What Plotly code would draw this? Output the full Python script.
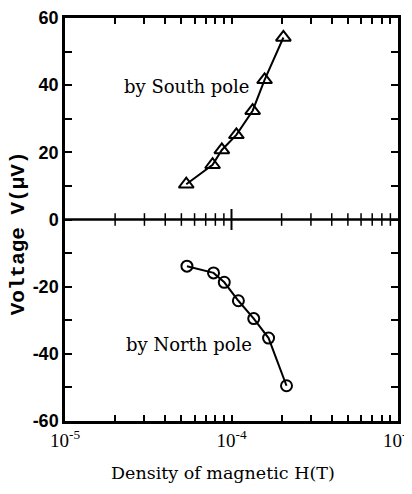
import plotly.graph_objects as go

# Data
south_h = [5.35e-5, 7.7e-5, 8.75e-5, 1.07e-4, 1.34e-4, 1.58e-4, 2.05e-4]
south_v = [10.5, 16.3, 20.7, 25.2, 32.4, 41.6, 54.2]
north_h = [5.4e-5, 7.8e-5, 9.05e-5, 1.1e-4, 1.36e-4, 1.67e-4, 2.14e-4]
north_v = [-13.9, -15.9, -18.7, -24.2, -29.5, -35.3, -49.5]

x_major = [1e-5, 1e-4, 1e-3]
x_major_text = ["10<sup>-5</sup>", "10<sup>-4</sup>", "10<sup>-3</sup>"]
x_minor = [m * d for d in (1e-5, 1e-4) for m in range(2, 10)]
x_inner_major = [1e-4]
y_ticks = [-60, -40, -20, 0, 20, 40, 60]
y_text = ["-60", "-40", "-20", "0", "20", "40", "60"]

x_all = x_major + x_minor
x_all_text = x_major_text + [""] * len(x_minor)

fig = go.Figure()

# zero line with ticks on both sides (axis decoration built from the tick lists)
fig.add_shape(type="line", xref="paper", x0=0, x1=1, yref="y", y0=0, y1=0,
              line=dict(color="black", width=2.5))
fig.add_trace(go.Scatter(x=x_minor, y=[0] * len(x_minor), mode="markers",
                         marker=dict(symbol="line-ns-open", size=9, color="black",
                                     line=dict(width=1.5, color="black")),
                         hoverinfo="skip", showlegend=False))
fig.add_trace(go.Scatter(x=x_inner_major, y=[0] * len(x_inner_major), mode="markers",
                         marker=dict(symbol="line-ns-open", size=15, color="black",
                                     line=dict(width=2, color="black")),
                         hoverinfo="skip", showlegend=False))

fig.add_trace(go.Scatter(
    x=south_h, y=south_v, mode="lines+markers",
    line=dict(color="black", width=2),
    marker=dict(symbol="triangle-up-open", size=13, color="black", line=dict(width=2)),
    showlegend=False))
fig.add_trace(go.Scatter(
    x=north_h, y=north_v, mode="lines+markers",
    line=dict(color="black", width=2),
    marker=dict(symbol="circle-open", size=11, color="black", line=dict(width=2)),
    showlegend=False))

LW = 2.5
fig.update_xaxes(type="log", range=[-5, -3], showline=True, linewidth=LW, linecolor="black",
                 ticks="inside", ticklen=6, tickwidth=1.5, tickcolor="black", mirror="ticks",
                 tickmode="array", tickvals=x_all, ticktext=x_all_text, showgrid=False,
                 zeroline=False, automargin=False,
                 tickfont=dict(family="Liberation Serif", size=19, color="black"))
fig.update_yaxes(range=[-60, 60], showline=True, linewidth=LW, linecolor="black",
                 ticks="inside", ticklen=7, tickwidth=2, tickcolor="black", mirror="ticks",
                 tickmode="array", tickvals=y_ticks, ticktext=y_text, showgrid=False,
                 zeroline=False, automargin=False,
                 minor=dict(dtick=10, ticks="inside", ticklen=7, tickwidth=2,
                            tickcolor="black", showgrid=False),
                 tickfont=dict(family="Liberation Sans", size=18, color="black",
                               weight="bold"))

fig.add_annotation(text="by South pole", xref="paper", yref="paper", x=0.366, y=0.831,
                   xanchor="center", yanchor="middle", showarrow=False,
                   font=dict(family="DejaVu Serif", size=18, color="black"))
fig.add_annotation(text="by North pole", xref="paper", yref="paper", x=0.372, y=0.191,
                   xanchor="center", yanchor="middle", showarrow=False,
                   font=dict(family="DejaVu Serif", size=18, color="black"))
fig.add_annotation(text="Voltage V(\u03bcV)", xref="paper", yref="paper", x=-0.141, y=0.466,
                   xanchor="center", yanchor="middle", textangle=-90, showarrow=False,
                   font=dict(family="Liberation Mono", size=21, color="black", weight="bold"))
fig.add_annotation(text="Density of magnetic H(T)", xref="paper", yref="paper", x=0.474,
                   y=-0.129, xanchor="center", yanchor="middle", showarrow=False,
                   font=dict(family="DejaVu Serif", size=17.5, color="black"))

# the page body adds an offset; margins compensate so the frame sits like the reference
fig.update_layout(width=412, height=494, margin=dict(l=57, r=22, t=10, b=81),
                  plot_bgcolor="white", paper_bgcolor="white")
fig.write_html("out.html")
